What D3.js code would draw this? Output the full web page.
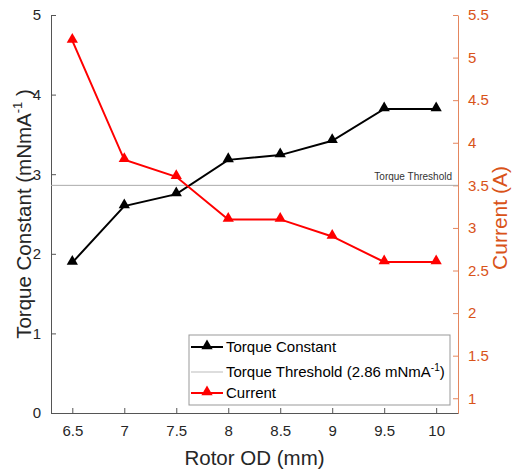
<!DOCTYPE html>
<html>
<head>
<meta charset="utf-8">
<script src="https://d3js.org/d3.v7.min.js"></script>
<style>
  body { margin: 0; background: #fff; }
  text { font-family: "Liberation Sans", Arial, sans-serif; }
</style>
</head>
<body>
<div id="viz"></div>
<script>
// data
var rotorOD = [6.5, 7, 7.5, 8, 8.5, 9, 9.5, 10];
var torqueConstant = [1.89, 2.60, 2.75, 3.18, 3.24, 3.42, 3.82, 3.82];
var current = [5.2, 3.8, 3.6, 3.1, 3.1, 2.9, 2.6, 2.6];
var torqueThreshold = 2.86;
var xTicks = [6.5, 7, 7.5, 8, 8.5, 9, 9.5, 10];
var yLeftTicks = [0, 1, 2, 3, 4, 5];
var yRightTicks = [1, 1.5, 2, 2.5, 3, 3.5, 4, 4.5, 5, 5.5];

var W = 515, H = 469;
var m = {left: 51, right: 57, top: 15, bottom: 56};
var orange = '#D95319', dark = '#262626';

var svg = d3.select('#viz').append('svg')
  .attr('width', W).attr('height', H);

var x = d3.scaleLinear().domain([6.295, 10.21]).range([m.left, W - m.right]);
var yL = d3.scaleLinear().domain([0, 5]).range([H - m.bottom, m.top]);
// right axis lines up 3.5 A with the threshold
var yR = d3.scaleLinear().domain([0.827, 5.5]).range([H - m.bottom, m.top]);

var fmt = d3.format('');

// axes (ticks point inward, matlab style)
var gx = svg.append('g')
  .attr('transform', 'translate(0,' + (H - m.bottom) + ')')
  .call(d3.axisBottom(x).tickValues(xTicks).tickSizeInner(-5).tickSizeOuter(0).tickPadding(12).tickFormat(fmt));
var gl = svg.append('g')
  .attr('transform', 'translate(' + m.left + ',0)')
  .call(d3.axisLeft(yL).tickValues(yLeftTicks).tickSizeInner(-5).tickSizeOuter(0).tickPadding(10).tickFormat(fmt));
var gr = svg.append('g')
  .attr('transform', 'translate(' + (W - m.right) + ',0)')
  .call(d3.axisRight(yR).tickValues(yRightTicks).tickSizeInner(-5).tickSizeOuter(0).tickPadding(10).tickFormat(fmt));

[gx, gl].forEach(function(g) {
  g.selectAll('path, line').attr('stroke', '#555');
  g.selectAll('text').attr('fill', dark).style('font-size', '15px')
    .style('font-family', '"Liberation Sans", Arial, sans-serif');
});
gr.selectAll('path, line').attr('stroke', orange).attr('stroke-opacity', 0.7);
gr.selectAll('text').attr('fill', orange).style('font-size', '15px')
  .style('font-family', '"Liberation Sans", Arial, sans-serif');

// axis titles
svg.append('text')
  .attr('x', (m.left + W - m.right) / 2).attr('y', H - 4)
  .attr('text-anchor', 'middle').attr('fill', dark).style('font-size', '20.5px')
  .text('Rotor OD (mm)');

var lt = svg.append('text')
  .attr('transform', 'translate(31,' + ((m.top + H - m.bottom) / 2) + ') rotate(-90)')
  .attr('text-anchor', 'middle').attr('fill', dark).style('font-size', '20.5px');
lt.append('tspan').text('Torque Constant (mNmA');
lt.append('tspan').attr('dy', -9).style('font-size', '13px').text('-1');
lt.append('tspan').attr('dy', 9).text(' )');

svg.append('text')
  .attr('transform', 'translate(507,' + ((m.top + H - m.bottom) / 2 + 4) + ') rotate(-90)')
  .attr('text-anchor', 'middle').attr('fill', orange).style('font-size', '21px')
  .text('Current (A)');

// threshold
svg.append('line')
  .attr('x1', m.left).attr('x2', W - m.right)
  .attr('y1', yL(torqueThreshold)).attr('y2', yL(torqueThreshold))
  .attr('stroke', '#aaa').attr('stroke-width', 1);
svg.append('text')
  .attr('x', W - m.right - 6).attr('y', yL(torqueThreshold) - 5)
  .attr('text-anchor', 'end').attr('fill', '#333').style('font-size', '10px')
  .text('Torque Threshold');

var tri = d3.symbol().type(d3.symbolTriangle).size(55);

function drawSeries(vals, yScale, color) {
  var line = d3.line().x(function(d, i) { return x(rotorOD[i]); }).y(function(d) { return yScale(d); });
  svg.append('path').datum(vals)
    .attr('fill', 'none').attr('stroke', color).attr('stroke-width', 2).attr('d', line);
  svg.selectAll(null).data(vals).enter().append('path')
    .attr('d', tri)
    .attr('transform', function(d, i) { return 'translate(' + x(rotorOD[i]) + ',' + (yScale(d) - 1) + ')'; })
    .attr('fill', color);
}
drawSeries(torqueConstant, yL, '#000');
drawSeries(current, yR, '#ff0000');

// legend
var lg = svg.append('g').attr('transform', 'translate(189,335)');
lg.append('rect').attr('width', 261).attr('height', 70)
  .attr('fill', '#fff').attr('stroke', '#999').attr('stroke-width', 1);
var items = [
  {label: 'Torque Constant', color: '#000', w: 2, mark: true},
  {label: 'Torque Threshold (2.86 mNmA', color: '#bbb', w: 1, mark: false, sup: '-1'},
  {label: 'Current', color: '#ff0000', w: 2, mark: true}
];
var rowY = [12, 37, 58];
items.forEach(function(it, i) {
  var g = lg.append('g').attr('transform', 'translate(0,' + rowY[i] + ')');
  g.append('line').attr('x1', 2).attr('x2', 34).attr('stroke', it.color).attr('stroke-width', it.w);
  if (it.mark) g.append('path').attr('d', tri).attr('transform', 'translate(18,-1)').attr('fill', it.color);
  var t = g.append('text').attr('x', 37).attr('y', 5).attr('fill', '#000').style('font-size', '15px');
  t.append('tspan').text(it.label);
  if (it.sup) {
    t.append('tspan').attr('dy', -6).style('font-size', '10px').text(it.sup);
    t.append('tspan').attr('dy', 6).text(')');
  }
});
</script>
</body>
</html>
